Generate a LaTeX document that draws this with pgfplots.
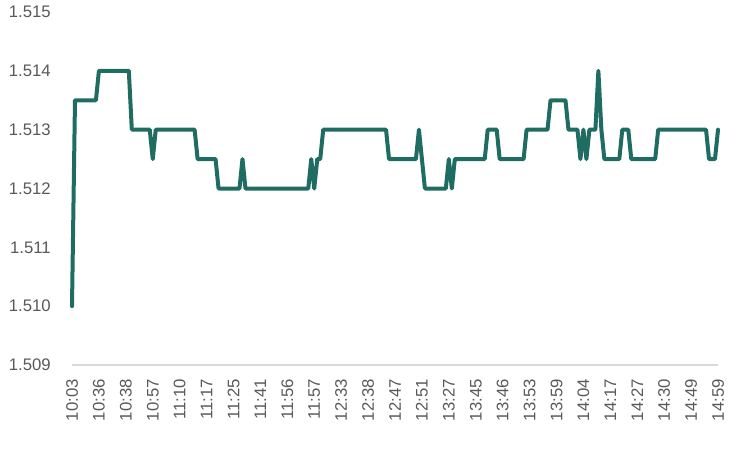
\documentclass[border=0pt]{standalone}
\usepackage{fontspec}
\setmainfont{Liberation Sans}
\usepackage{pgfplots}
\pgfplotsset{compat=1.18}
\definecolor{lineteal}{RGB}{30,108,98}
\definecolor{labelgray}{RGB}{89,89,89}
\definecolor{axisgray}{RGB}{217,217,217}
\begin{document}
\begin{tikzpicture}
\useasboundingbox (0,0) rectangle (750bp,450bp);
\begin{axis}[
    at={(72bp,85bp)}, anchor=south west,
    scale only axis, width=646bp, height=353bp,
    xmin=0, xmax=216, ymin=1.509, ymax=1.515,
    axis x line*=bottom, axis y line*=left,
    x axis line style={draw=axisgray, line width=1.4bp},
    y axis line style={draw=none},
    major tick length=0pt,
    ytick={1.509,1.510,1.511,1.512,1.513,1.514,1.515},
    scaled y ticks=false,
    yticklabel style={/pgf/number format/fixed, /pgf/number format/fixed zerofill,
        /pgf/number format/precision=3, /pgf/number format/assume math mode=true,
        anchor=east, inner sep=0pt, xshift=-21bp},
    xtick={0,9,...,216},
    xticklabels={10:03,10:36,10:38,10:57,11:10,11:17,11:25,11:41,11:56,11:57,12:33,12:38,12:47,12:51,13:27,13:45,13:46,13:53,13:59,14:04,14:17,14:27,14:30,14:49,14:59},
    xticklabel style={yshift=-14bp, rotate=90, anchor=east, inner sep=0pt},
    ticklabel style={font=\fontsize{16.8}{19}\selectfont, text=labelgray},
    clip=false,
]
% price ticks: index of the trade, price (corners of the step series)
\addplot[lineteal, line width=4bp, line join=round, line cap=round, mark=none] coordinates {
    (0,1.510) (1,1.5135) (8,1.5135) (9,1.514) (19,1.514) (20,1.513)
    (26,1.513) (27,1.5125) (28,1.513) (41,1.513) (42,1.5125) (48,1.5125)
    (49,1.512) (56,1.512) (57,1.5125) (58,1.512) (79,1.512) (80,1.5125)
    (81,1.512) (82,1.5125) (83,1.5125) (84,1.513) (105,1.513) (106,1.5125)
    (115,1.5125) (116,1.513) (117,1.5125) (118,1.512) (125,1.512) (126,1.5125)
    (127,1.512) (128,1.5125) (138,1.5125) (139,1.513) (142,1.513) (143,1.5125)
    (151,1.5125) (152,1.513) (159,1.513) (160,1.5135) (165,1.5135) (166,1.513)
    (169,1.513) (170,1.5125) (171,1.513) (172,1.5125) (173,1.513) (175,1.513)
    (176,1.514) (177,1.513) (178,1.5125) (183,1.5125) (184,1.513) (186,1.513)
    (187,1.5125) (195,1.5125) (196,1.513) (212,1.513) (213,1.5125) (215,1.5125)
    (216,1.513)
};
\end{axis}
\end{tikzpicture}
\end{document}
